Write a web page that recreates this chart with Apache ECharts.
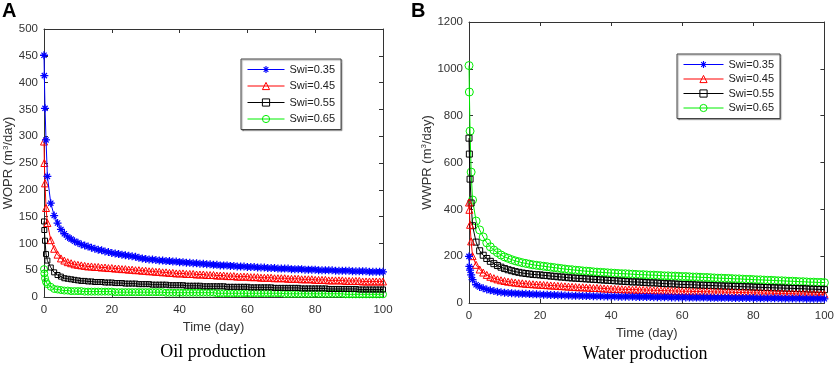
<!DOCTYPE html>
<html>
<head>
<meta charset="utf-8">
<script src="https://cdn.jsdelivr.net/npm/echarts@6/dist/echarts.min.js"></script>
<style>
  html, body { margin: 0; padding: 0; background: #fff; }
  #chart { width: 837px; height: 366px; }
</style>
</head>
<body>
<div id="chart"></div>
<script>
// time steps (day)
const days = [0, 0.1, 0.3, 0.6, 1, 2, 3, 4, 5, 6, 7, 8, 9, 10,
  11, 12, 13, 14, 15, 16, 17, 18, 19, 20,
  21, 22, 23, 24, 25, 26, 27, 28, 29, 30,
  31, 32, 33, 34, 35, 36, 37, 38, 39, 40,
  41, 42, 43, 44, 45, 46, 47, 48, 49, 50,
  51, 52, 53, 54, 55, 56, 57, 58, 59, 60,
  61, 62, 63, 64, 65, 66, 67, 68, 69, 70,
  71, 72, 73, 74, 75, 76, 77, 78, 79, 80,
  81, 82, 83, 84, 85, 86, 87, 88, 89, 90,
  91, 92, 93, 94, 95, 96, 97, 98, 99, 100];

const seriesNames = ["Swi=0.35", "Swi=0.45", "Swi=0.55", "Swi=0.65"];

// WOPR (m3/day)
const oil035 = [451, 413, 352, 293, 225, 175, 152, 138, 126, 118, 112, 108, 104, 101,
  98, 96, 94, 92, 90, 88, 87, 85, 84, 82,
  81, 80, 79, 78, 77, 76, 75, 73, 72, 71,
  70, 70, 69, 68, 68, 67, 67, 66, 66, 65,
  65, 64, 64, 63, 63, 62, 62, 61, 61, 60,
  60, 59, 59, 59, 58, 58, 57, 57, 57, 56,
  56, 56, 55, 55, 55, 54, 54, 54, 53, 53,
  53, 53, 52, 52, 52, 52, 51, 51, 51, 51,
  50, 50, 50, 50, 50, 49, 49, 49, 49, 49,
  48, 48, 48, 48, 48, 47, 47, 47, 47, 47];
const oil045 = [290, 250, 212, 166, 138, 106, 90, 79, 72, 68, 65, 63, 61, 60,
  59, 58, 57, 57, 56, 56, 55, 55, 54, 54,
  53, 53, 52, 52, 51, 51, 50, 50, 49, 49,
  48, 48, 47, 47, 46, 46, 45, 45, 44, 44,
  44, 43, 43, 43, 42, 42, 42, 41, 41, 41,
  40, 40, 40, 39, 39, 39, 38, 38, 38, 38,
  37, 37, 37, 36, 36, 36, 36, 35, 35, 35,
  35, 34, 34, 34, 34, 33, 33, 33, 33, 32,
  32, 32, 32, 31, 31, 31, 31, 31, 30, 30,
  30, 30, 30, 29, 29, 29, 29, 29, 29, 29];
const oil055 = [141, 125, 105, 80, 68, 55, 46, 41, 38, 35, 34, 33, 32, 31,
  30, 30, 29, 29, 28, 28, 28, 27, 27, 27,
  26, 26, 26, 25, 25, 25, 25, 24, 24, 24,
  24, 23, 23, 23, 23, 23, 22, 22, 22, 22,
  22, 21, 21, 21, 21, 21, 20, 20, 20, 20,
  20, 20, 20, 19, 19, 19, 19, 19, 19, 19,
  18, 18, 18, 18, 18, 18, 18, 17, 17, 17,
  17, 17, 17, 17, 17, 16, 16, 16, 16, 16,
  16, 16, 16, 15, 15, 15, 15, 15, 15, 15,
  15, 15, 14, 14, 14, 14, 14, 14, 14, 14];
const oil065 = [52, 44, 35, 28, 24, 19, 15, 14, 13, 12, 12, 11, 11, 11,
  11, 10, 10, 10, 10, 10, 10, 10, 10, 10,
  9, 9, 9, 9, 9, 9, 9, 9, 9, 9,
  9, 9, 9, 9, 9, 8, 8, 8, 8, 8,
  8, 8, 8, 8, 8, 8, 8, 8, 8, 8,
  7, 7, 7, 7, 7, 7, 7, 7, 7, 7,
  7, 7, 7, 7, 7, 7, 7, 7, 7, 7,
  6, 6, 6, 6, 6, 6, 6, 6, 6, 6,
  6, 6, 6, 6, 6, 6, 6, 6, 5, 5,
  5, 5, 5, 5, 5, 5, 5, 5, 5, 5];

// WWPR (m3/day)
const wat035 = [199, 156, 140, 120, 100, 78, 68, 63, 58, 54, 51, 48, 46, 44,
  43, 42, 41, 40, 39, 39, 38, 37, 37, 36,
  35, 35, 34, 34, 33, 33, 32, 32, 31, 31,
  31, 30, 30, 30, 29, 29, 29, 28, 28, 28,
  28, 27, 27, 27, 27, 27, 26, 26, 26, 26,
  26, 25, 25, 25, 25, 25, 24, 24, 24, 24,
  24, 23, 23, 23, 23, 23, 23, 22, 22, 22,
  22, 22, 22, 21, 21, 21, 21, 21, 21, 21,
  20, 20, 20, 20, 20, 20, 20, 19, 19, 19,
  19, 19, 19, 19, 18, 18, 18, 18, 18, 18];
const wat045 = [429, 398, 334, 263, 200, 163, 143, 130, 120, 112, 106, 101, 97, 94,
  91, 89, 87, 85, 84, 82, 81, 80, 79, 78,
  77, 76, 75, 74, 73, 72, 71, 70, 69, 68,
  67, 67, 66, 65, 64, 64, 63, 62, 61, 60,
  60, 59, 59, 58, 58, 57, 57, 56, 56, 55,
  55, 54, 54, 53, 53, 52, 52, 51, 51, 50,
  50, 50, 49, 49, 49, 48, 48, 48, 47, 47,
  47, 46, 46, 46, 45, 45, 45, 44, 44, 43,
  43, 43, 42, 42, 42, 41, 41, 41, 40, 40,
  40, 39, 39, 39, 38, 38, 38, 37, 37, 37];
const wat055 = [704, 636, 529, 427, 330, 260, 223, 204, 190, 178, 168, 160, 153, 147,
  142, 138, 134, 131, 128, 126, 124, 122, 121, 120,
  118, 117, 115, 114, 112, 111, 110, 108, 107, 106,
  105, 104, 103, 102, 101, 100, 99, 98, 97, 96,
  95, 94, 93, 92, 91, 90, 90, 89, 88, 87,
  86, 86, 85, 84, 83, 82, 82, 81, 80, 79,
  79, 78, 78, 77, 76, 76, 75, 75, 74, 73,
  73, 72, 72, 71, 71, 70, 70, 69, 69, 68,
  67, 67, 66, 66, 65, 65, 64, 64, 63, 63,
  62, 62, 61, 61, 60, 59, 59, 58, 58, 57];
const wat065 = [1014, 901, 734, 559, 440, 350, 312, 282, 257, 240, 226, 215, 205, 197,
  191, 185, 180, 176, 172, 169, 166, 163, 161, 159,
  157, 155, 153, 151, 149, 147, 145, 143, 142, 140,
  139, 137, 136, 135, 133, 132, 131, 130, 129, 128,
  127, 126, 125, 125, 124, 123, 122, 121, 121, 120,
  119, 119, 118, 117, 116, 116, 115, 115, 114, 113,
  113, 112, 111, 111, 110, 109, 109, 108, 107, 106,
  106, 105, 105, 104, 103, 103, 102, 101, 101, 100,
  99, 99, 98, 97, 97, 96, 95, 95, 94, 93,
  93, 92, 91, 91, 90, 89, 89, 88, 88, 87];

const xTicks = { min: 0, max: 100, interval: 20 };
const oilTicks = { min: 0, max: 500, interval: 50 };
const watTicks = { min: 0, max: 1200, interval: 200 };

const FONT = "Liberation Sans, Arial, sans-serif";
const SERIF = "Liberation Serif, Times New Roman, serif";
const AXIS_COLOR = "#333";
const TEXT_COLOR = "#333";

// MATLAB-style markers
const ASTERISK = "path://M4.2,0h1.6v10h-1.6z M0,4.2h10v1.6h-10z M1.2,2.3L2.3,1.2L8.8,7.7L7.7,8.8z M7.7,1.2L8.8,2.3L2.3,8.8L1.2,7.7z";
const styles = [
  { color: "#0000ff", symbol: ASTERISK, size: 8, hollow: false },
  { color: "#ff0000", symbol: "triangle", size: 7, hollow: true },
  { color: "#000000", symbol: "rect", size: 5, hollow: true },
  { color: "#00ee00", symbol: "circle", size: 7, hollow: true },
];

const chart = echarts.init(document.getElementById("chart"));

const toPoints = values => days.map((d, i) => [d, values[i]]);

const makeSeries = (values, idx, axisIndex, sizeBoost) => {
  const s = styles[idx];
  return {
    name: seriesNames[idx],
    type: "line",
    xAxisIndex: axisIndex,
    yAxisIndex: axisIndex,
    data: toPoints(values),
    symbol: s.symbol,
    symbolSize: s.size + sizeBoost,
    showAllSymbol: true,
    lineStyle: { color: s.color, width: 1 },
    itemStyle: s.hollow
      ? { color: "rgba(255,255,255,0)", borderColor: s.color, borderWidth: 1 }
      : { color: s.color, borderWidth: 0 },
    emphasis: { disabled: true },
    z: 10 - idx,
  };
};

const axisLine = { show: true, onZero: false, lineStyle: { color: AXIS_COLOR, width: 1 } };
const axisTick = { show: true, inside: true, length: 4, lineStyle: { color: AXIS_COLOR } };
const tickLabel = margin => ({
  fontFamily: FONT, fontSize: 11.5, color: TEXT_COLOR, margin,
  formatter: v => String(v),
});

const mainX = (gridIndex, nameGap) => ({
  gridIndex,
  type: "value",
  ...xTicks,
  name: "Time (day)",
  nameLocation: "middle",
  nameGap,
  nameTextStyle: { fontFamily: FONT, fontSize: 13, color: TEXT_COLOR },
  axisLine,
  axisTick,
  axisLabel: tickLabel(7),
  splitLine: { show: false },
});

const boxX = gridIndex => ({
  gridIndex,
  type: "value",
  position: "top",
  ...xTicks,
  axisLine,
  axisTick,
  axisLabel: { show: false },
  splitLine: { show: false },
});

const mainY = (gridIndex, ticks, name, nameGap) => ({
  gridIndex,
  type: "value",
  ...ticks,
  name,
  nameLocation: "middle",
  nameGap,
  nameRotate: 90,
  nameTextStyle: {
    fontFamily: FONT, fontSize: 13, color: TEXT_COLOR,
    rich: { sup: { fontFamily: FONT, fontSize: 8, color: TEXT_COLOR, verticalAlign: "top", padding: [0, 0, 6, 0] } },
  },
  axisLine,
  axisTick,
  axisLabel: tickLabel(6),
  splitLine: { show: false },
});

const boxY = (gridIndex, ticks) => ({
  gridIndex,
  type: "value",
  position: "right",
  ...ticks,
  axisLine,
  axisTick,
  axisLabel: { show: false },
  splitLine: { show: false },
});

const makeLegend = (left, top, itemGap, itemWidth) => ({
  data: seriesNames,
  orient: "vertical",
  left,
  top,
  padding: [5, 6, 5, 6],
  itemWidth,
  itemHeight: 9,
  itemGap,
  backgroundColor: "#fff",
  borderColor: "#444",
  borderWidth: 1,
  borderRadius: 0,
  shadowColor: "rgba(0,0,0,0.35)",
  shadowOffsetX: 1,
  shadowOffsetY: 1,
  shadowBlur: 1,
  selectedMode: false,
  lineStyle: { width: 1 },
  itemStyle: { borderWidth: 1 },
  textStyle: { fontFamily: FONT, fontSize: 11, color: "#222" },
});

const option = {
  animation: false,
  backgroundColor: "#fff",
  title: [
    { text: "A", left: 2, top: 1, padding: 0,
      textStyle: { fontFamily: FONT, fontSize: 20, fontWeight: "bold", color: "#000" } },
    { text: "B", left: 411, top: 1, padding: 0,
      textStyle: { fontFamily: FONT, fontSize: 20, fontWeight: "bold", color: "#000" } },
    { text: "Oil production", left: 213, top: 343, textAlign: "center", padding: 0,
      textStyle: { fontFamily: SERIF, fontSize: 18, fontWeight: "normal", color: "#000" } },
    { text: "Water production", left: 645, top: 345, textAlign: "center", padding: 0,
      textStyle: { fontFamily: SERIF, fontSize: 18, fontWeight: "normal", color: "#000" } },
  ],
  grid: [
    { left: 44, top: 29, right: 454, bottom: 69 },
    { left: 469, top: 22, right: 11, bottom: 63 },
  ],
  xAxis: [mainX(0, 20), boxX(0), mainX(1, 23), boxX(1)],
  yAxis: [
    mainY(0, oilTicks, "WOPR (m{sup|3}/day)", 25),
    boxY(0, oilTicks),
    mainY(1, watTicks, "WWPR (m{sup|3}/day)", 34),
    boxY(1, watTicks),
  ],
  legend: [makeLegend(241, 59, 5.5, 37), makeLegend(677, 54, 3.5, 40)],
  series: [
    makeSeries(oil035, 0, 0, 0),
    makeSeries(oil045, 1, 0, 0),
    makeSeries(oil055, 2, 0, 0),
    makeSeries(oil065, 3, 0, 0),
    makeSeries(wat035, 0, 2, 0),
    makeSeries(wat045, 1, 2, 0),
    makeSeries(wat055, 2, 2, 1),
    makeSeries(wat065, 3, 2, 1),
  ],
};

chart.setOption(option);
</script>
</body>
</html>
